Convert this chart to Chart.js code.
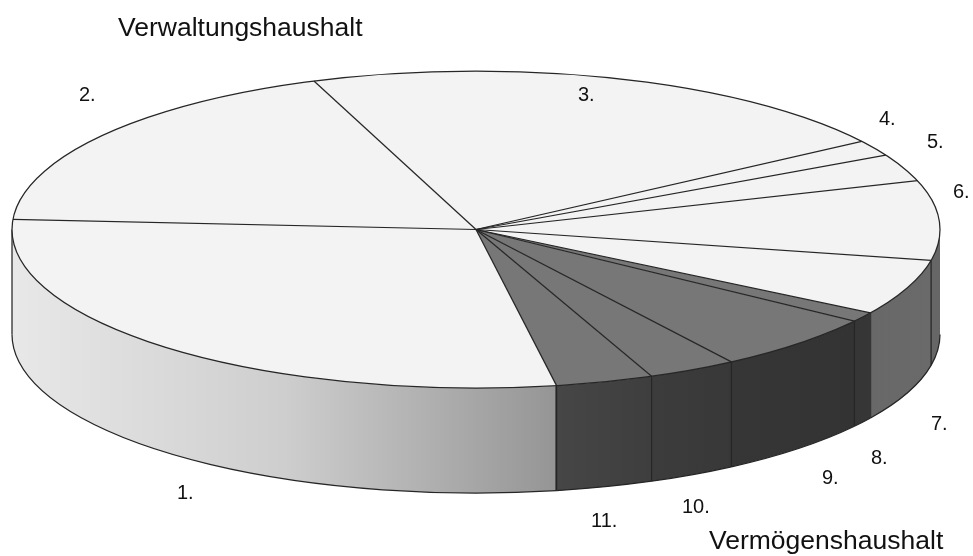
<!DOCTYPE html>
<html>
<head>
<meta charset="utf-8">
<style>
html, body { margin: 0; padding: 0; background: #fff; overflow: hidden; }
canvas { display: block; }
</style>
<script src="https://cdn.jsdelivr.net/npm/chart.js@4"></script>
</head>
<body>
<canvas id="pie-chart" width="973" height="556"></canvas>
<script>
const sliceLabels = ["1.", "2.", "3.", "4.", "5.", "6.", "7.", "8.", "9.", "10.", "11."];
const sliceValues = [28.8, 18.3, 21.3, 1.6, 2.8, 8.1, 5.7, 1.0, 5.9, 3.1, 3.4];
const topColors = ["#f3f3f3", "#f3f3f3", "#f3f3f3", "#f3f3f3", "#f3f3f3", "#f3f3f3", "#f3f3f3",
    "#777777", "#777777", "#777777", "#777777"];
// wall colour at the left and right end of each slice's side
const wallLeft = ["#e8e8e8", "#e8e8e8", "#e8e8e8", "#666666", "#666666", "#666666", "#686868",
    "#363636", "#363636", "#3c3c3c", "#464646"];
const wallRight = ["#959595", "#e8e8e8", "#e8e8e8", "#666666", "#666666", "#666666", "#6a6a6a",
    "#363636", "#333333", "#383838", "#3e3e3e"];
const labelSpots = [[177, 493], [79, 95], [578, 95], [879, 119], [927, 142], [953, 192],
    [931, 424], [871, 458], [822, 478], [682, 507], [591, 521]];
const titleTexts = ["Verwaltungshaushalt", "Vermögenshaushalt"];
const titleSpots = [[118, 29], [709, 542]];

const centerX = 476;
const centerY = 229.5;
const radiusX = 464;
const radiusY = 158.5;
const wallHeight = 105;
const lineColor = "#262626";
const lineThick = 1.25;

// the parts of an arc that face the viewer (canvas angles 0..PI)
function frontParts(start, end) {
    const parts = [];
    for (let k = -1; k <= 1; k++) {
        const a = Math.max(start + k * 2 * Math.PI, 0);
        const b = Math.min(end + k * 2 * Math.PI, Math.PI);
        if (b > a) parts.push([a, b]);
    }
    return parts;
}

const squashPlugin = {
    id: "squash",
    beforeDatasetsDraw(chart) {
        const ctx = chart.ctx;
        const arcs = chart.getDatasetMeta(0).data;
        ctx.save();
        arcs.forEach((arc, i) => {
            frontParts(arc.startAngle, arc.endAngle).forEach(([a, b]) => {
                const xa = centerX + radiusX * Math.cos(a);
                const xb = centerX + radiusX * Math.cos(b);
                const gradient = ctx.createLinearGradient(xb, 0, xa, 0);
                gradient.addColorStop(0, wallLeft[i]);
                // the big slice stays light for longer
                if (i === 0) gradient.addColorStop(0.5, "#cecece");
                gradient.addColorStop(1, wallRight[i]);
                ctx.beginPath();
                // a hair wider than the slice so no seam shows between neighbours
                ctx.ellipse(centerX, centerY, radiusX, radiusY, 0, a - 0.003, b + 0.003);
                ctx.ellipse(centerX, centerY + wallHeight, radiusX, radiusY, 0, b + 0.003, a - 0.003, true);
                ctx.closePath();
                ctx.fillStyle = gradient;
                ctx.fill();
            });
        });
        ctx.strokeStyle = lineColor;
        ctx.lineWidth = lineThick;
        arcs.forEach((arc, i) => {
            frontParts(arc.startAngle, arc.endAngle).forEach(([a, b]) => {
                ctx.beginPath();
                ctx.ellipse(centerX, centerY + wallHeight, radiusX, radiusY, 0, a, b);
                ctx.stroke();
                // 7 and 8 meet without a line on the side
                if (i !== 6) {
                    const xb = centerX + radiusX * Math.cos(b);
                    const yb = centerY + radiusY * Math.sin(b);
                    ctx.beginPath();
                    ctx.moveTo(xb, yb);
                    ctx.lineTo(xb, yb + wallHeight);
                    ctx.stroke();
                }
            });
        });
        ctx.restore();
    },
    beforeDatasetDraw(chart) {
        const ctx = chart.ctx;
        const arc = chart.getDatasetMeta(0).data[0];
        ctx.save();
        ctx.translate(centerX, centerY);
        ctx.scale(radiusX / arc.outerRadius, radiusY / arc.outerRadius);
        ctx.translate(-arc.x, -arc.y);
    },
    afterDatasetDraw(chart) {
        const ctx = chart.ctx;
        ctx.restore();
        // outlines go on after the squash so the pen stays even
        ctx.save();
        ctx.strokeStyle = lineColor;
        ctx.lineWidth = lineThick;
        chart.getDatasetMeta(0).data.forEach((arc) => {
            ctx.beginPath();
            ctx.moveTo(centerX, centerY);
            ctx.lineTo(centerX + radiusX * Math.cos(arc.startAngle), centerY + radiusY * Math.sin(arc.startAngle));
            ctx.stroke();
        });
        ctx.beginPath();
        ctx.ellipse(centerX, centerY, radiusX, radiusY, 0, 0, 2 * Math.PI);
        ctx.stroke();
        ctx.restore();
    },
    afterDraw(chart) {
        const ctx = chart.ctx;
        ctx.save();
        ctx.fillStyle = "#111";
        ctx.textBaseline = "middle";
        ctx.font = "20px 'Liberation Sans', Arial, sans-serif";
        sliceLabels.forEach((label, i) => {
            ctx.fillText(label, labelSpots[i][0], labelSpots[i][1]);
        });
        ctx.font = "26.5px 'Liberation Sans', Arial, sans-serif";
        titleTexts.forEach((title, i) => {
            ctx.fillText(title, titleSpots[i][0], titleSpots[i][1]);
        });
        ctx.restore();
    },
};

const pieContext = document.getElementById("pie-chart");

const pieChart = new Chart(pieContext, {
    type: "pie",
    data: {
        labels: sliceLabels,
        datasets: [{
            data: sliceValues,
            backgroundColor: topColors,
            borderWidth: 0,
            clip: false,
        }],
    },
    options: {
        responsive: false,
        animation: false,
        rotation: 170,
        plugins: { legend: { display: false }, tooltip: { enabled: false } },
    },
    plugins: [squashPlugin],
});
</script>
</body>
</html>
